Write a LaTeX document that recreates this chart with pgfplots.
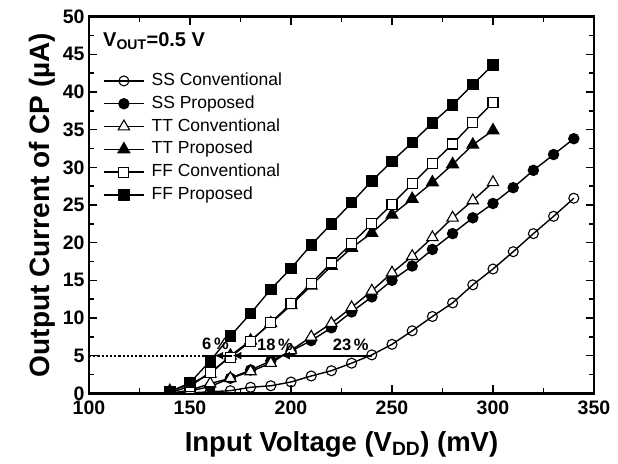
\documentclass[border=0pt]{standalone}
\usepackage{fontspec}
\setmainfont{Liberation Sans}
\usepackage{pgfplots}
\pgfplotsset{compat=1.18}
\usetikzlibrary{arrows.meta}
\begin{document}
\begin{tikzpicture}
\begin{axis}[
  scale only axis,
  width=505pt, height=376.6pt,
  xmin=100, xmax=350, ymin=0, ymax=50,
  xtick={100,150,...,350}, ytick={0,5,...,50},
  minor x tick num=1, minor y tick num=1,
  tick align=inside,
  xtick pos=both, ytick pos=both,
  xticklabel pos=bottom, yticklabel pos=left,
  major tick length=8pt, minor tick length=5pt,
  every tick/.style={line width=1.6pt, black},
  axis line style={line width=2.6pt},
  tick label style={font=\fontsize{19.5}{20}\selectfont\bfseries},
  /pgf/number format/assume math mode=true,
  xticklabel style={yshift=-4pt},
  yticklabel style={xshift=-1pt},
  xlabel={Input Voltage (V\textsubscript{DD}) (mV)},
  xlabel style={font=\fontsize{27.5}{30}\selectfont\bfseries, at={(rel axis cs:0.5,0)}, anchor=base, yshift=-58pt},
  clip marker paths=true,
  legend cell align=left,
  legend style={draw=none, fill=none, at={(rel axis cs:0,1)}, anchor=north west,
     xshift=14pt, yshift=-56pt, inner sep=0pt, row sep=6.7pt, column sep=7pt,
     nodes={inner sep=0pt, font=\fontsize{17.5}{18}\selectfont, text height=12.6pt, text depth=3.5pt}},
  legend image code/.code={\draw[mark repeat=2, mark phase=2, #1] plot coordinates {(0pt,0pt) (20pt,0pt) (40pt,0pt)};},
  every axis plot/.append style={line width=1.4pt, black},
]
\coordinate (O) at (rel axis cs:0,0);

\addplot[mark=o, mark options={fill=white, solid, line width=1.1pt}, mark size=5pt] coordinates {
(140,0.0)(150,0.05)(160,0.2)(170,0.35)(180,0.8)(190,1.0)(200,1.5)(210,2.3)(220,3.0)(230,4.0)(240,5.1)(250,6.5)(260,8.3)(270,10.2)(280,12.0)(290,14.4)(300,16.5)(310,18.8)(320,21.2)(330,23.5)(340,25.9)};
\addlegendentry{SS Conventional}

\addplot[mark=*, mark options={fill=black, solid}, mark size=5pt] coordinates {
(140,0)(150,0.3)(160,0.9)(170,2.0)(180,3.1)(190,4.3)(200,5.6)(210,7.0)(220,8.7)(230,10.8)(240,12.8)(250,15.0)(260,16.9)(270,19.1)(280,21.2)(290,23.3)(300,25.2)(310,27.3)(320,29.6)(330,31.7)(340,33.8)};
\addlegendentry{SS Proposed}

\addplot[mark=triangle*, mark options={fill=white, solid, line width=1.1pt}, mark size=6.5pt] coordinates {
(140,0)(150,0.4)(160,1.3)(170,2.0)(180,2.9)(190,4.0)(200,5.7)(210,7.5)(220,9.3)(230,11.4)(240,13.6)(250,16.0)(260,18.2)(270,20.7)(280,23.3)(290,25.6)(300,28.0)};
\addlegendentry{TT Conventional}

\addplot[mark=triangle*, mark options={fill=black, solid}, mark size=6.5pt] coordinates {
(140,0.3)(150,1.2)(160,2.6)(170,5.0)(180,7.0)(190,9.3)(200,11.7)(210,14.3)(220,16.9)(230,19.3)(240,21.3)(250,23.7)(260,25.8)(270,28.0)(280,30.4)(290,33.0)(300,34.9)};
\addlegendentry{TT Proposed}

\addplot[mark=square*, mark options={fill=white, solid, line width=1.1pt}, mark size=5pt] coordinates {
(140,0.1)(150,0.9)(160,2.8)(170,4.8)(180,6.9)(190,9.4)(200,11.9)(210,14.6)(220,17.3)(230,19.9)(240,22.5)(250,25.1)(260,27.8)(270,30.5)(280,33.1)(290,35.9)(300,38.6)};
\addlegendentry{FF Conventional}

\addplot[mark=square*, mark options={fill=black, solid}, mark size=5pt] coordinates {
(140,0.2)(150,1.4)(160,4.3)(170,7.6)(180,10.6)(190,13.8)(200,16.6)(210,19.7)(220,22.5)(230,25.3)(240,28.2)(250,30.8)(260,33.3)(270,35.9)(280,38.3)(290,41.0)(300,43.6)};
\addlegendentry{FF Proposed}

\draw[line width=2.2pt, dotted] (axis cs:100,5) -- (axis cs:160,5);
\draw[line width=2.2pt, -{Latex[length=9pt,width=8pt]}] (axis cs:240,5) -- (axis cs:195,5);
\draw[line width=2.2pt, -{Latex[length=9pt,width=8pt]}] (axis cs:195,5) -- (axis cs:171,5);
\draw[line width=2.2pt, -{Latex[length=9pt,width=8pt]}] (axis cs:171,5) -- (axis cs:162,5);

\node[font=\fontsize{16.5}{16}\selectfont\bfseries] at (axis cs:162.6,6.6) {6\,\%};
\node[font=\fontsize{16.5}{16}\selectfont\bfseries] at (axis cs:192.1,6.5) {18\,\%};
\node[font=\fontsize{16.5}{16}\selectfont\bfseries] at (axis cs:229.6,6.4) {23\,\%};

\node[anchor=base west, inner sep=0pt, font=\fontsize{20}{20}\selectfont\bfseries] at ([xshift=14pt,yshift=-30pt]rel axis cs:0,1) {V\textsubscript{OUT}=0.5 V};
\end{axis}
\node[rotate=90, anchor=base, inner sep=0pt, font=\fontsize{28}{30}\selectfont\bfseries] at ([xshift=-39pt,yshift=188.3pt]O) {Output Current of CP (µA)};
\pgfresetboundingbox
\useasboundingbox ([shift={(-89pt,-69.7pt)}]O) rectangle ++(618pt,463pt);
\end{tikzpicture}
\end{document}
